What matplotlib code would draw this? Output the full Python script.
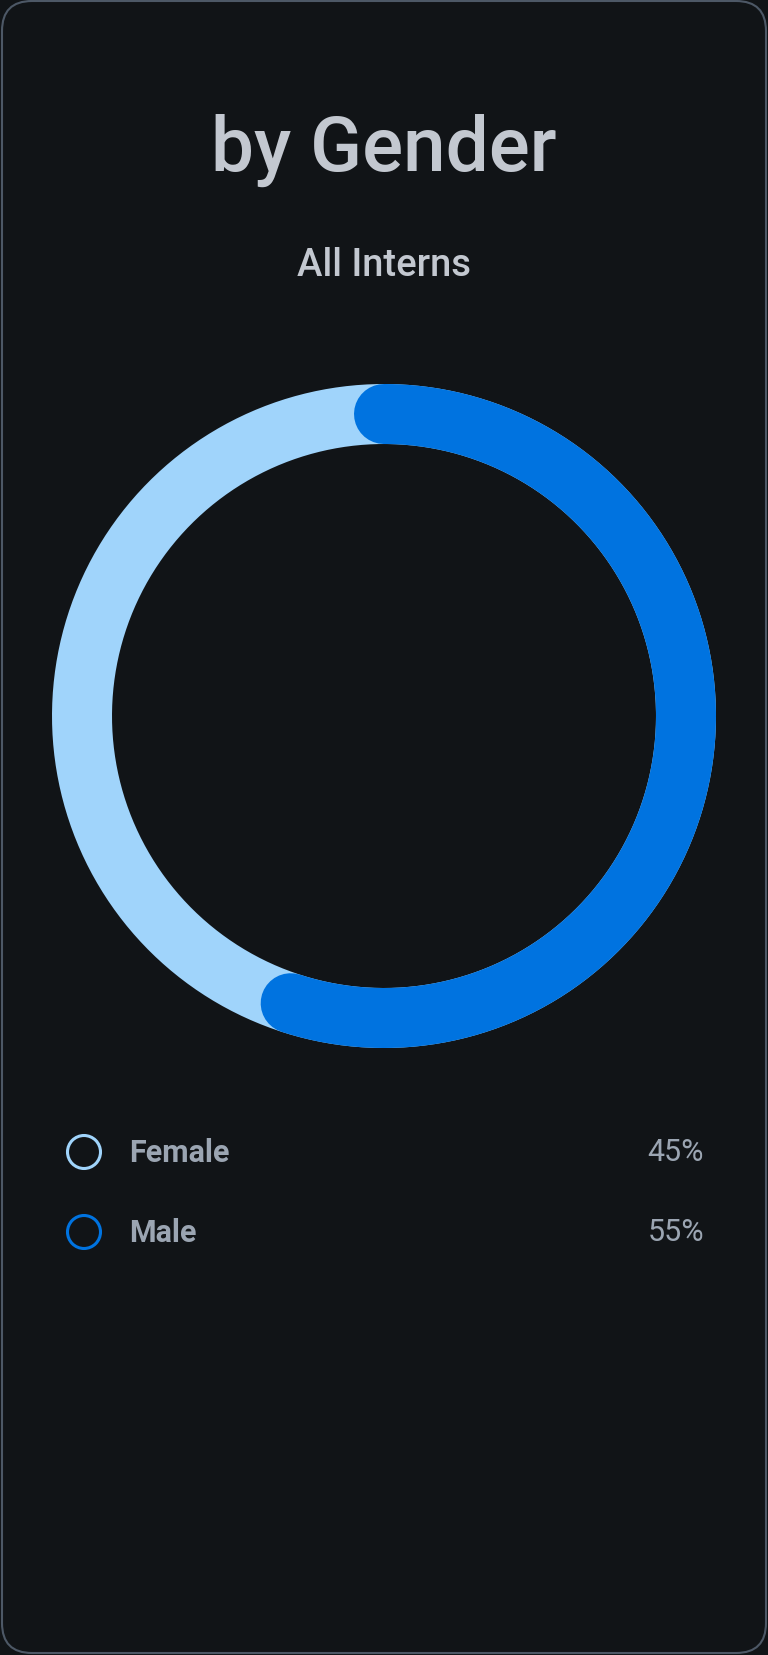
import numpy as np
import matplotlib.pyplot as plt
from matplotlib.patches import FancyBboxPatch, Circle

labels = ['Female', 'Male']
values = [45, 55]
colors = ['#a0d4fb', '#0073e0']
title = 'by Gender'
subtitle = 'All Interns'

W, H = 768, 1656
fig = plt.figure(figsize=(W / 100, H / 100), dpi=100)
fig.patch.set_facecolor('#111417')
ax = fig.add_axes([0, 0, 1, 1])
ax.set_xlim(0, W)
ax.set_ylim(H, 0)
ax.set_aspect('equal')
ax.axis('off')

# card
card = FancyBboxPatch((2, 2), W - 4, H - 4, boxstyle='round,pad=0,rounding_size=30',
                      facecolor='#111417', edgecolor='#4d5866', linewidth=1.5)
ax.add_patch(card)

ax.text(W / 2, 150, title, ha='center', va='center', fontsize=55,
        fontfamily='Roboto', fontweight='medium', color='#c3c8d0')
ax.text(W / 2, 265, subtitle, ha='center', va='center', fontsize=27.5,
        fontfamily='Roboto', fontweight='medium', color='#c3c8d0')

# donut
cx, cy, r = 384, 717, 302
ring_w = 60 * 72 / 100
t = np.linspace(0, 2 * np.pi, 400)
ax.plot(cx + r * np.cos(t), cy + r * np.sin(t), color=colors[0], lw=ring_w,
        solid_capstyle='butt')
frac = values[1] / sum(values)
a = np.linspace(0, frac * 2 * np.pi, 400)
# clockwise from 12 o'clock (y axis points down)
ax.plot(cx + r * np.sin(a), cy - r * np.cos(a), color=colors[1], lw=ring_w,
        solid_capstyle='round')

# legend
rows_y = [1153, 1233]
for lab, val, col, y in zip(labels, values, colors, rows_y):
    ax.add_patch(Circle((84, y), 16.5, facecolor='none', edgecolor=col, linewidth=2.2))
    ax.text(129, y, lab, ha='left', va='center', fontsize=22,
            fontfamily='Roboto', fontweight='bold', color='#9ba5b2')
    ax.text(704, y, f'{val}%', ha='right', va='center', fontsize=22,
            fontfamily='Roboto', fontweight='normal', color='#9ba5b2')

fig.savefig('out.png', dpi=100, facecolor=fig.get_facecolor())
